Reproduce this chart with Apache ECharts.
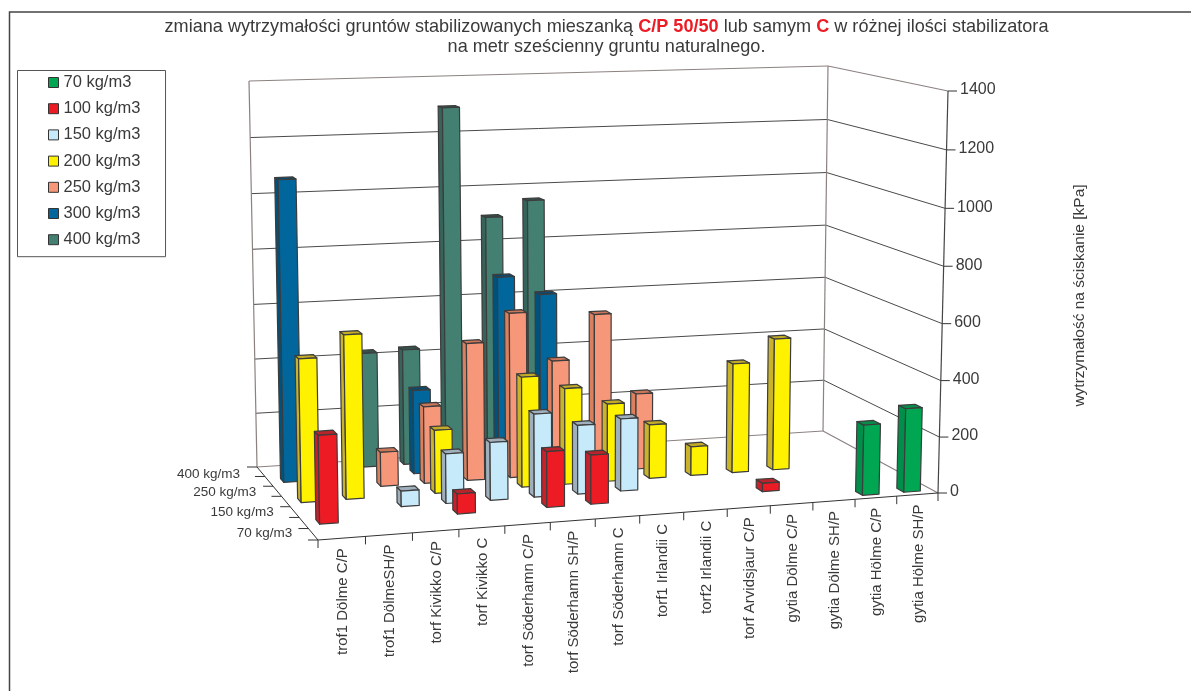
<!DOCTYPE html>
<html><head><meta charset="utf-8">
<style>html,body{margin:0;padding:0;background:#fff}#c{width:1191px;height:691px}</style>
<script src="https://cdn.jsdelivr.net/npm/echarts@6/dist/echarts.min.js"></script>
</head><body><div id="c"></div>
<script>
var categories = ['trof1 Dölme C/P','trof1 DölmeSH/P','torf Kivikko C/P','torf Kivikko C','torf Söderhamn C/P','torf Söderhamn SH/P','torf Söderhamn C','torf1 Irlandii C','torf2 Irlandii C','torf Arvidsjaur C/P','gytia Dölme C/P','gytia Dölme SH/P','gytia Hölme C/P','gytia Hölme SH/P'];
var seriesNames = ['70 kg/m3','100 kg/m3','150 kg/m3','200 kg/m3','250 kg/m3','300 kg/m3','400 kg/m3'];
var depthTickLabels = ['70 kg/m3','','150 kg/m3','','250 kg/m3','','400 kg/m3'];
var valueTicks = [0,200,400,600,800,1000,1200,1400];
var v70  = [null,null,null,null,null,null,null,null,null,null,null,null,250,298];
var v100 = [305,null,null,70,null,196,173,null,null,null,30,null,null,null];
var v150 = [null,null,55,175,205,295,245,258,null,null,null,null,null,null];
var v200 = [505,580,null,225,null,395,345,280,195,105,398,480,null,null];
var v250 = [null,null,123,277,495,595,415,575,277,null,null,null,null,null];
var v300 = [1080,null,null,305,null,700,630,null,null,null,null,null,null,null];
var v400 = [null,null,420,425,1295,895,950,null,null,null,null,null,null,null];
var allValues = [v70,v100,v150,v200,v250,v300,v400];
var frontColors = ['#00a651','#ed1c24','#c7eafb','#fff200','#f7977a','#00669c','#448072'];
var sideColors  = ['#008f4a','#c9202b','#9fb0bc','#c9b32a','#d9805f','#00527d','#36635a'];
var topColors   = ['#0a8a4a','#b8242b','#9fb0bc','#c2ab28','#c9765a','#0b4a6e','#33524c'];
var edge = '#3c3c3c', wallEdge = '#8b8280', gridLine = '#4a4a4a', textColor = '#3a3a3a';
var fontFamily = '"Liberation Sans", Arial, sans-serif';

// plot box on screen: floor corners (front-left, front-right, back-right, back-left),
// the full-height vector at each of those corners, and two small lens corrections
var floorQuad = [[318,540],[938,493],[823,431],[257,467]];
var heightQuad = [[-7,-425],[10,-402],[5,-365],[-8,-386]];
var widthBend = -0.028, heightBend = -0.03;
var floorMap = (function(q){
  var x0=q[0][0],y0=q[0][1],x1=q[1][0],y1=q[1][1],x2=q[2][0],y2=q[2][1],x3=q[3][0],y3=q[3][1];
  var dx1=x1-x2,dx2=x3-x2,sx=x0-x1+x2-x3,dy1=y1-y2,dy2=y3-y2,sy=y0-y1+y2-y3;
  var den=dx1*dy2-dx2*dy1,g=(sx*dy2-dx2*sy)/den,h=(dx1*sy-sx*dy1)/den;
  var a=x1-x0+g*x1,b=x3-x0+h*x3,d=y1-y0+g*y1,e=y3-y0+h*y3;
  return function(u,w){var k=g*u+h*w+1;return [(a*u+b*w+x0)/k,(d*u+e*w+y0)/k];};
})(floorQuad);
function project(u,w,t){
  var ub=u+widthBend*u*(1-u), tb=t+heightBend*t*(1-t);
  var f=floorMap(ub,w),H=heightQuad,out=[0,0];
  for(var n=0;n<2;n++){
    var hv=H[0][n]*(1-ub)*(1-w)+H[1][n]*ub*(1-w)+H[2][n]*ub*w+H[3][n]*(1-ub)*w;
    out[n]=f[n]+hv*tb;
  }
  return out;
}
var rowCount = seriesNames.length, barFrac = 0.4;

function line(a,b,color,width){
  return {type:'line',shape:{x1:a[0],y1:a[1],x2:b[0],y2:b[1]},style:{stroke:color,lineWidth:width||1},silent:true};
}
function label(text,x,y,align,rot,size){
  return {type:'text',x:x,y:y,rotation:rot||0,silent:true,style:{text:text,fill:textColor,font:(size||15)+'px '+fontFamily,align:align,verticalAlign:'middle'}};
}
function renderFrame(params,api){
  var rect=params.coordSys, ch=[];
  function tOf(v){return (rect.y+rect.height-api.coord([0,v])[1])/rect.height;}
  valueTicks.forEach(function(v,i){
    var t=tOf(v), isEdge=(i===0||i===valueTicks.length-1), c=isEdge?wallEdge:gridLine;
    ch.push(line(project(0,1,t),project(1,1,t),c,isEdge?1.2:1));
    ch.push(line(project(1,1,t),project(1,0,t),c,isEdge?1.2:1));
    var p=project(1,0,t);
    ch.push(line(p,[p[0]+9,p[1]],'#333',1));
    ch.push(label(String(v),p[0]+12,p[1]-1,'left',0,16));
  });
  ch.push(line(project(0,1,0),project(0,1,1),wallEdge,1.2));
  ch.push(line(project(1,1,0),project(1,1,1),wallEdge,1.2));
  ch.push(line(project(1,0,0),project(1,0,1),'#444',1.2));
  ch.push(line(project(0,0,0),project(1,0,0),'#333',1));
  ch.push(line(project(0,0,0),project(0,1,0),'#333',1));
  categories.forEach(function(name,i){
    var p=project(i/categories.length,0,0);
    ch.push(line(p,[p[0],p[1]+8],'#333',1));
    var c=project((i+.5)/categories.length,0,0);
    ch.push(label(name,c[0]+1,c[1]+10,'right',Math.PI/2,15));
  });
  var pe=project(1,0,0); ch.push(line(pe,[pe[0],pe[1]+8],'#333',1));
  for(var r=0;r<=rowCount;r++){
    var q=project(0,r/rowCount,0);
    ch.push(line(q,[q[0]-10,q[1]],'#333',1));
    if(r<rowCount&&depthTickLabels[r]){
      var m=project(0,(r+.5)/rowCount,0);
      ch.push(label(depthTickLabels[r],m[0]-21,m[1]-1+r*0.6,'right',0,13.5));
    }
  }
  return {type:'group',children:ch};
}
function makeBarRender(row){
  return function(params,api){
    var rect=params.coordSys, p=api.coord([api.value(0),api.value(1)]), band=api.size([1,0])[0];
    var uc=(p[0]-rect.x)/rect.width, du=barFrac/2*band/rect.width;
    var t=(rect.y+rect.height-p[1])/rect.height;
    var u0=uc-du,u1=uc+du,w0=(row+.5-barFrac/2)/rowCount,w1=(row+.5+barFrac/2)/rowCount;
    function face(pts,fill){return {type:'polygon',shape:{points:pts},style:{fill:fill,stroke:edge,lineWidth:1.2,lineJoin:'round'},silent:true};}
    return {type:'group',children:[
      face([project(u0,w0,0),project(u0,w1,0),project(u0,w1,t),project(u0,w0,t)],sideColors[row]),
      face([project(u0,w0,t),project(u0,w1,t),project(u1,w1,t),project(u1,w0,t)],topColors[row]),
      face([project(u0,w0,0),project(u1,w0,0),project(u1,w0,t),project(u0,w0,t)],frontColors[row])
    ]};
  };
}
var series=[{type:'custom',name:'frame',coordinateSystem:'cartesian2d',z:1,animation:false,silent:true,renderItem:renderFrame,data:[[0,0]]}];
allValues.forEach(function(vals,row){
  var data=[];
  for(var i=vals.length-1;i>=0;i--){ if(vals[i]!==null) data.push([i,vals[i]]); }
  series.push({type:'custom',name:seriesNames[row],coordinateSystem:'cartesian2d',z:20-row,animation:false,silent:true,
    itemStyle:{color:frontColors[row]},renderItem:makeBarRender(row),data:data,encode:{x:0,y:1}});
});
var chart=echarts.init(document.getElementById('c'),null,{renderer:'canvas'});
chart.setOption({
  animation:false,backgroundColor:'#fff',textStyle:{fontFamily:fontFamily},
  title:{left:601.5,top:12,textAlign:'center',
    text:'{n|zmiana wytrzymałości gruntów stabilizowanych mieszanką }{b|C/P 50/50}{n| lub samym }{b|C}{n| w różnej ilości stabilizatora}\n{n|na metr sześcienny gruntu naturalnego.}',
    textStyle:{fontWeight:'normal',rich:{n:{fontSize:18.1,fontWeight:'normal',fontFamily:fontFamily,color:textColor,lineHeight:20},b:{fontSize:18.1,fontWeight:'bold',fontFamily:fontFamily,color:'#ed1c24',lineHeight:20}}}},
  legend:{orient:'vertical',left:17.5,top:70.5,padding:[3.5,25,8.5,30.5],itemGap:9.2,itemWidth:10,itemHeight:10,icon:'rect',
    selectedMode:false,borderColor:'#555',borderWidth:1,
    itemStyle:{borderColor:'#333',borderWidth:1},
    textStyle:{fontSize:16.5,color:textColor,fontFamily:fontFamily},data:seriesNames},
  grid:{left:100,top:100,width:900,height:400,show:false},
  xAxis:{type:'category',data:categories,show:false},
  yAxis:{type:'value',min:0,max:1400,interval:200,show:false},
  graphic:[
    {type:'polyline',shape:{points:[[9.5,691],[9.5,12],[1191,12]]},style:{stroke:'#444',lineWidth:1.5,fill:null},silent:true},
    {type:'text',x:1080,y:295.5,rotation:Math.PI/2,silent:true,style:{text:'wytrzymałość na ściskanie [kPa]',fill:textColor,font:'15.5px '+fontFamily,align:'center',verticalAlign:'middle'}}
  ],
  series:series
});
</script></body></html>
